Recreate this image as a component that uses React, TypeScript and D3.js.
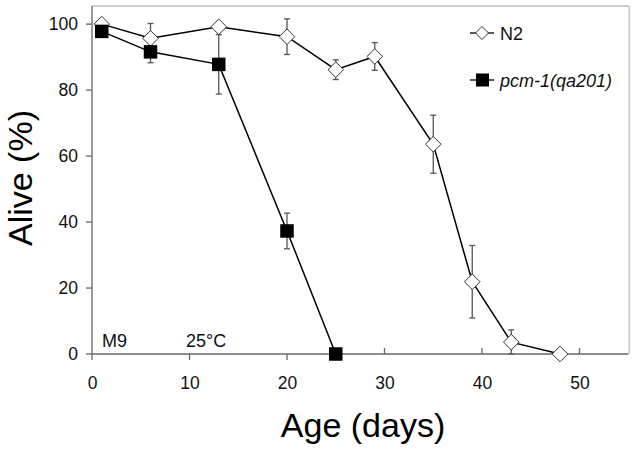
import React from "react";
import * as d3 from "d3";

const n2Days = [1, 6, 13, 20, 25, 29, 35, 39, 43, 48];
const n2Alive = [100, 95.7, 99.2, 96.2, 86.2, 90.2, 63.6, 21.9, 3.6, 0];
const n2Err = [0, 4.5, 0, 5.4, 3, 4.2, 8.8, 11, 3.7, 0];

const pcmDays = [1, 6, 13, 20, 25];
const pcmAlive = [97.8, 91.6, 87.8, 37.3, 0];
const pcmErr = [0, 3.3, 9, 5.4, 0];

const xTicks = [0, 10, 20, 30, 40, 50];
const yTicks = [0, 20, 40, 60, 80, 100];

const W = 635, H = 449;
const FONT = "'Liberation Sans', Arial, sans-serif";

export default function App() {
  const x = d3.scaleLinear().domain([0, 55]).range([92, 628.25]);
  const y = d3.scaleLinear().domain([0, 105.5]).range([354, 6]);
  const line = d3.line<[number, number]>().x(d => x(d[0])).y(d => y(d[1]));
  const n2 = n2Days.map((d, i) => [d, n2Alive[i]] as [number, number]);
  const pcm = pcmDays.map((d, i) => [d, pcmAlive[i]] as [number, number]);
  const dr = 7.8;
  const sq = 13.5;
  const diamond = (cx: number, cy: number) =>
    `M${cx},${cy - dr}L${cx + dr},${cy}L${cx},${cy + dr}L${cx - dr},${cy}Z`;

  const errBars = (days: number[], vals: number[], errs: number[], key: string) =>
    days.map((d, i) =>
      errs[i] > 0 ? (
        <g key={key + i} stroke="#555" strokeWidth={1.3}>
          <line x1={x(d)} x2={x(d)} y1={y(vals[i] + errs[i])} y2={y(Math.max(0, vals[i] - errs[i]))} />
          <line x1={x(d) - 3} x2={x(d) + 3} y1={y(vals[i] + errs[i])} y2={y(vals[i] + errs[i])} />
          <line x1={x(d) - 3} x2={x(d) + 3} y1={y(Math.max(0, vals[i] - errs[i]))} y2={y(Math.max(0, vals[i] - errs[i]))} />
        </g>
      ) : null
    );

  return (
    <div style={{ position: "fixed", left: 0, top: 0 }}>
      <svg width={W} height={H} style={{ display: "block", background: "#fff" }} fontFamily={FONT}>
        <rect x={0} y={0} width={W} height={H} fill="#fff" />
        {/* frame */}
        <line x1={x(0)} x2={x(55) + 1} y1={y(105.5)} y2={y(105.5)} stroke="#cfcfcf" strokeWidth={2} />
        <line x1={x(55) + 1} x2={x(55) + 1} y1={y(105.5)} y2={y(0)} stroke="#cfcfcf" strokeWidth={2} />
        {/* axes */}
        <line x1={x(0)} x2={x(0)} y1={y(105.5)} y2={y(0)} stroke="#666" strokeWidth={1.3} />
        <line x1={x(0)} x2={x(55)} y1={y(0)} y2={y(0)} stroke="#666" strokeWidth={1.3} />
        {yTicks.map(t => (
          <g key={"y" + t}>
            <line x1={x(0) - 6} x2={x(0)} y1={y(t)} y2={y(t)} stroke="#666" strokeWidth={1.3} />
            <text x={78} y={y(t) + 6.3} fontSize={17.5} textAnchor="end" fill="#111">{t}</text>
          </g>
        ))}
        {xTicks.map(t => (
          <g key={"x" + t}>
            <line x1={x(t)} x2={x(t)} y1={y(0)} y2={t < 30 ? y(0) + 6 : y(0) - 6} stroke="#666" strokeWidth={1.3} />
            <text x={x(t) + 0.5} y={389} fontSize={17.5} textAnchor="middle" fill="#111">{t}</text>
          </g>
        ))}
        {/* annotations */}
        <text x={102} y={346.5} fontSize={18} fill="#111">M9</text>
        <text x={186} y={346.5} fontSize={18} fill="#111">25°C</text>
        {/* axis titles */}
        <text transform="translate(32,178) rotate(-90)" fontSize={34} textAnchor="middle" fill="#000">Alive (%)</text>
        <text x={363} y={437} fontSize={34} textAnchor="middle" fill="#000">Age (days)</text>
        {/* error bars */}
        {errBars(n2Days, n2Alive, n2Err, "n")}
        {errBars(pcmDays, pcmAlive, pcmErr, "p")}
        {/* lines */}
        <path d={line(n2) || ""} fill="none" stroke="#000" strokeWidth={1.5} />
        <path d={line(pcm) || ""} fill="none" stroke="#000" strokeWidth={1.5} />
        {/* markers */}
        {n2.map((p, i) => (
          <path key={"nd" + i} d={diamond(x(p[0]), y(p[1]))} fill="#fff" stroke="#333" strokeWidth={1} />
        ))}
        {pcm.map((p, i) => (
          <rect key={"ps" + i} x={x(p[0]) - sq / 2} y={y(p[1]) - sq / 2} width={sq} height={sq} fill="#000" />
        ))}
        {/* legend */}
        <line x1={470} x2={494} y1={33} y2={33} stroke="#000" strokeWidth={1.3} />
        <path d={`M482,${33 - 6.5}L488.5,33L482,${33 + 6.5}L475.5,33Z`} fill="#fff" stroke="#333" strokeWidth={1} />
        <text x={500} y={39.5} fontSize={18} fill="#111">N2</text>
        <line x1={470} x2={494} y1={80} y2={80} stroke="#000" strokeWidth={1.3} />
        <rect x={476} y={73.5} width={13} height={13} fill="#000" />
        <text x={500} y={86.5} fontSize={18} fontStyle="italic" fill="#111">pcm-1(qa201)</text>
      </svg>
    </div>
  );
}
